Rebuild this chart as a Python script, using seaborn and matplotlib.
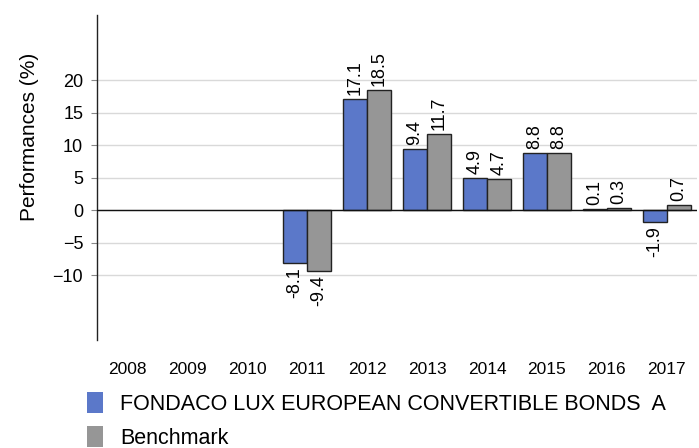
import pandas as pd
import numpy as np
import matplotlib.pyplot as plt
import seaborn as sns

# Data
years = ['2008', '2009', '2010', '2011', '2012', '2013', '2014', '2015', '2016', '2017']
fund = [np.nan, np.nan, np.nan, -8.1, 17.1, 9.4, 4.9, 8.8, 0.1, -1.9]
benchmark = [np.nan, np.nan, np.nan, -9.4, 18.5, 11.7, 4.7, 8.8, 0.3, 0.7]
series_names = ['FONDACO LUX EUROPEAN CONVERTIBLE BONDS  A', 'Benchmark']
colors = ['#5b78c9', '#969696']

df = pd.DataFrame({'year': years * 2,
                   'value': fund + benchmark,
                   'serie': [series_names[0]] * len(years) + [series_names[1]] * len(years)})
df = df.dropna()

sns.set_style('white')
plt.rcParams['font.family'] = ['Liberation Sans', 'DejaVu Sans']
plt.rcParams['text.color'] = 'black'
plt.rcParams['xtick.color'] = 'black'
plt.rcParams['ytick.color'] = 'black'
plt.rcParams['axes.labelcolor'] = 'black'

fig = plt.figure(figsize=(6.99, 4.48), dpi=100)
ax = fig.add_axes([0.1388, 0.241, 0.8582, 0.7255])

sns.barplot(data=df, x='year', y='value', hue='serie', order=years,
            hue_order=series_names, palette=colors, width=0.8,
            edgecolor='#222222', linewidth=1, saturation=1, ax=ax, legend=False)

# Etiquettes de valeur
for cont in ax.containers:
    ax.bar_label(cont, fmt='%.1f', rotation=90, padding=3, fontsize=13)

ax.set_ylim(-20, 30)
ax.set_yticks([-10, -5, 0, 5, 10, 15, 20])
ax.yaxis.grid(True, color='#d9d9d9', linewidth=1)
ax.set_axisbelow(True)
ax.axhline(0, color='#111111', linewidth=1, zorder=3)

for s in ['top', 'right', 'bottom']:
    ax.spines[s].set_visible(False)
ax.spines['left'].set_color('#222222')
ax.spines['left'].set_linewidth(1)

ax.tick_params(axis='y', length=4, color='#888888', labelsize=13, pad=6, left=True)
ax.tick_params(axis='x', length=0, labelsize=12.5, pad=16)
ax.set_xlabel('')
ax.set_ylabel('Performances (%)', fontsize=15)
ax.yaxis.set_label_coords(-0.097, 0.625)

# Legende
handles = [plt.Rectangle((0, 0), 1, 1, facecolor=c, edgecolor='none') for c in colors]
fig.legend(handles, series_names, loc='upper left', bbox_to_anchor=(0.1245, 0.125),
           frameon=False, fontsize=15.5, handlelength=0.75, handleheight=1.15,
           handletextpad=0.8, labelspacing=0.5, borderaxespad=0, borderpad=0)

plt.savefig('out.png', dpi=100)
